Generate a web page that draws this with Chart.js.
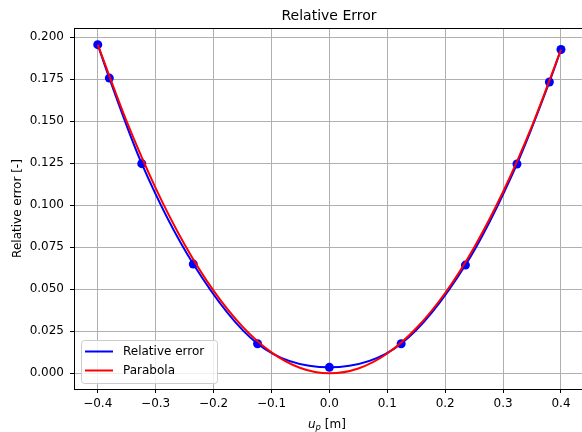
<!DOCTYPE html>
<html>
<head>
<meta charset="utf-8">
<script src="https://cdn.jsdelivr.net/npm/chart.js@4.4.0/dist/chart.umd.min.js"></script>
<style>
  body { margin: 0; background: #fff; }
  #wrap { width: 582px; height: 432px; }
</style>
</head>
<body>
<div id="wrap"><canvas id="chart" width="582" height="432"></canvas></div>
<script>
"use strict";

// sample nodes and the relative error at each of them
const nodeX = [-0.400, -0.380, -0.324, -0.235, -0.124, 0.000, 0.124, 0.235, 0.324, 0.380, 0.400];
const nodeErr = [0.1955, 0.1756, 0.1247, 0.0650, 0.0176, 0.0036, 0.0176, 0.0644, 0.1245, 0.1733, 0.1926];

// parabola
const paraX = [-0.40, -0.35, -0.30, -0.25, -0.20, -0.15, -0.10, -0.05, 0.00, 0.05, 0.10, 0.15, 0.20, 0.25, 0.30, 0.35, 0.40];
const paraY = [0.1955, 0.1498, 0.1102, 0.0767, 0.0492, 0.0278, 0.0125, 0.0032, 0.0000, 0.0029, 0.0118, 0.0268, 0.0478, 0.0749, 0.1080, 0.1472, 0.1926];

const xTicks = [-0.4, -0.3, -0.2, -0.1, 0.0, 0.1, 0.2, 0.3, 0.4];
const yTicks = [0.000, 0.025, 0.050, 0.075, 0.100, 0.125, 0.150, 0.175, 0.200];

const seriesNames = ["Relative error", "Parabola"];
const FONT = "'DejaVu Sans', sans-serif";

function pts(xs, ys) {
    return xs.map(function (x, i) { return { x: x, y: ys[i] }; });
}

// title, axis titles, frame and the legend inside the axes
const decorations = {
    id: "decorations",
    afterDraw: function (chart) {
        const c = chart.ctx;
        const a = chart.chartArea;
        c.save();
        c.strokeStyle = "#000";
        c.lineWidth = 1;
        c.strokeRect(a.left + 0.5, a.top + 0.5, a.right - a.left + 2, a.bottom - a.top);

        c.fillStyle = "#000";
        c.font = "14px " + FONT;
        c.textAlign = "center";
        c.textBaseline = "alphabetic";
        c.fillText("Relative Error", 329, 20);

        // x title: u_p [m]
        c.textAlign = "left";
        c.font = "italic 12px " + FONT;
        let x = 308;
        c.fillText("u", x, 428);
        x += c.measureText("u").width;
        c.font = "italic 8.5px " + FONT;
        c.fillText("p", x, 430);
        x += c.measureText("p").width;
        c.font = "12px " + FONT;
        c.fillText(" [m]", x, 428);

        // y title
        c.save();
        c.translate(18, (a.top + a.bottom) / 2);
        c.rotate(-Math.PI / 2);
        c.textAlign = "center";
        c.textBaseline = "middle";
        c.font = "12px " + FONT;
        c.fillText("Relative error [-]", 0, 0);
        c.restore();

        // legend
        const bx = 81, by = 340, bw = 136, bh = 43;
        c.beginPath();
        c.roundRect(bx + 0.5, by + 0.5, bw, bh, 3);
        c.fillStyle = "rgba(255,255,255,0.8)";
        c.fill();
        c.strokeStyle = "#cccccc";
        c.lineWidth = 1;
        c.stroke();
        const cols = ["#0000ff", "#ff0000"];
        const rows = [351.5, 370.5];
        c.font = "12px " + FONT;
        c.textBaseline = "middle";
        c.textAlign = "left";
        for (let i = 0; i < 2; i++) {
            c.strokeStyle = cols[i];
            c.lineWidth = 2;
            c.beginPath();
            c.moveTo(85, rows[i]);
            c.lineTo(113, rows[i]);
            c.stroke();
            c.fillStyle = "#000";
            c.fillText(seriesNames[i], 123, rows[i]);
        }
        c.restore();
    }
};

const ctx = document.getElementById("chart");
new Chart(ctx, {
    type: "scatter",
    data: {
        datasets: [
            {
                label: seriesNames[1],
                data: pts(paraX, paraY),
                showLine: true,
                borderColor: "#ff0000",
                borderWidth: 2,
                pointRadius: 0,
                cubicInterpolationMode: "monotone",
                order: 0
            },
            {
                label: "nodes",
                data: pts(nodeX, nodeErr),
                showLine: false,
                backgroundColor: "#0000ff",
                borderColor: "#0000ff",
                pointRadius: 4.5,
                pointBorderWidth: 0,
                order: 1
            },
            {
                label: seriesNames[0],
                data: pts(nodeX, nodeErr),
                showLine: true,
                borderColor: "#0000ff",
                borderWidth: 2,
                pointRadius: 0,
                cubicInterpolationMode: "monotone",
                order: 2
            }
        ]
    },
    options: {
        responsive: false,
        animation: false,
        layout: { autoPadding: false, padding: { top: 28, right: 0, left: 0, bottom: 0 } },
        plugins: {
            legend: { display: false },
            title: { display: false },
            tooltip: { enabled: false }
        },
        scales: {
            x: {
                type: "linear",
                min: -0.441,
                max: 0.4363,
                afterFit: function (s) {
                    s.height = 43;
                    s.paddingLeft = 0;
                    s.paddingRight = 0;
                },
                afterBuildTicks: function (s) { s.ticks = xTicks.map(function (v) { return { value: v }; }); },
                grid: { color: "#b0b0b0", lineWidth: 1, tickLength: 4, tickColor: "#000" },
                border: { display: false },
                ticks: {
                    color: "#000",
                    padding: 4,
                    maxRotation: 0,
                    font: { family: FONT, size: 12 },
                    callback: function (v) { return v.toFixed(1).replace("-", "\u2212"); }
                }
            },
            y: {
                min: -0.0093,
                max: 0.2054,
                afterFit: function (s) {
                    s.width = 74;
                    s.paddingTop = 0;
                    s.paddingBottom = 0;
                },
                afterBuildTicks: function (s) { s.ticks = yTicks.map(function (v) { return { value: v }; }); },
                grid: { color: "#b0b0b0", lineWidth: 1, tickLength: 4, tickColor: "#000" },
                border: { display: false },
                ticks: {
                    color: "#000",
                    padding: 6,
                    font: { family: FONT, size: 12 },
                    callback: function (v) { return v.toFixed(3); }
                }
            }
        }
    },
    plugins: [decorations]
});
</script>
</body>
</html>
